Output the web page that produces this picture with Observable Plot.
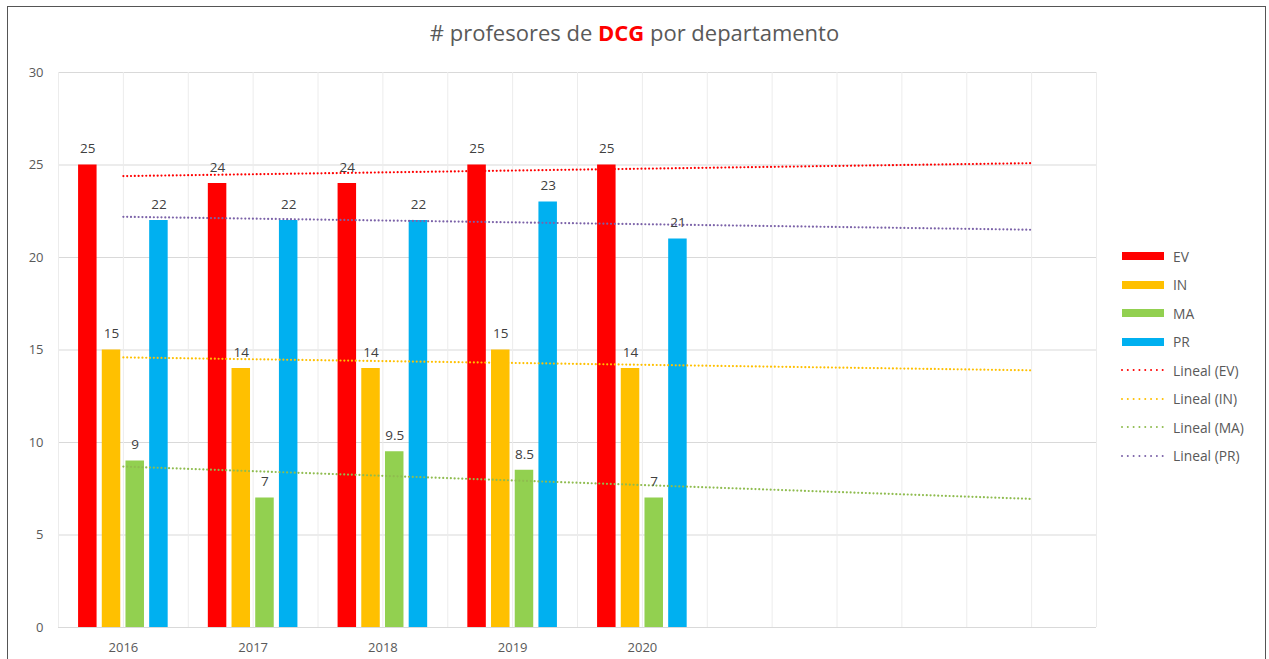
<!DOCTYPE html>
<html>
<head>
<meta charset="utf-8">
<script src="https://cdn.jsdelivr.net/npm/d3@7"></script>
<script src="https://cdn.jsdelivr.net/npm/@observablehq/plot@0.6"></script>
<style>
  html, body { margin: 0; padding: 0; background: #fff; }
  #wrap { position: relative; width: 1269px; height: 659px; overflow: hidden; font-family: "Open Sans", Lato, sans-serif; }
  #border { position: absolute; left: 7px; top: 6px; width: 1259px; height: 700px; border: 1.5px solid #555; box-sizing: border-box; }
  #title { position: absolute; left: 0; width: 1269px; top: 17px; text-align: center; font-size: 22px; color: #595959; }
  #title b { color: #ff0000; font-weight: 700; }
  #chart { position: absolute; left: 0; top: 50px; }
  #legend { position: absolute; left: 1120px; top: 242px; font-size: 13.8px; color: #595959; }
  .item { display: flex; align-items: center; height: 28.5px; }
  .item svg { margin-right: 9px; }
</style>
</head>
<body>
<div id="wrap">
  <div id="border"></div>
  <div id="title"># profesores de <b>DCG</b> por departamento</div>
  <div id="chart"></div>
  <div id="legend"></div>
</div>
<script>
// ---- data ----
const years = ["2016", "2017", "2018", "2019", "2020"];
const forecastSlots = ["2021", "2022", "2023"]; // empty categories (no labels)
const series = ["EV", "IN", "MA", "PR"];
const valuesEV = [25, 24, 24, 25, 25];
const valuesIN = [15, 14, 14, 15, 14];
const valuesMA = [9, 7, 9.5, 8.5, 7];
const valuesPR = [22, 22, 22, 23, 21];
const trendX = ["2016", "2023"];
const trendEV = [24.4, 25.1];
const trendIN = [14.6, 13.9];
const trendMA = [8.7, 6.95];
const trendPR = [22.2, 21.5];
const yTicks = [0, 5, 10, 15, 20, 25, 30];

// ---- styles ----
const barColors = {EV: "#ff0000", IN: "#ffc000", MA: "#92d050", PR: "#00b0f0"};
const trendColors = {EV: "#ff0000", IN: "#ffc000", MA: "#8fbc4f", PR: "#7b62a8"};
const W = 1269, mL = 58, mR = 173, mT = 22, mB = 32, H = 609;
const slots = years.concat(forecastSlots);
const bandW = (W - mL - mR) / slots.length;
const barW = 18.5, step = 23.7;

const valueMap = {EV: valuesEV, IN: valuesIN, MA: valuesMA, PR: valuesPR};
const trendMap = {EV: trendEV, IN: trendIN, MA: trendMA, PR: trendPR};

const marks = [];
// grid
marks.push(Plot.ruleY(yTicks, {stroke: "#d9d9d9", strokeWidth: 1}));
marks.push(Plot.ruleX(slots, {x: d => d, stroke: "#ececec", strokeWidth: 1}));
marks.push(Plot.ruleX(slots, {x: d => d, dx: -bandW / 2, stroke: "#ececec", strokeWidth: 1}));
marks.push(Plot.ruleX([slots[slots.length - 1]], {x: d => d, dx: bandW / 2, stroke: "#ececec", strokeWidth: 1}));
marks.push(Plot.ruleY([0], {stroke: "#d9d9d9", strokeWidth: 1.2}));

series.forEach((s, i) => {
  const off = (i - 1.5) * step;
  const data = years.map((y, j) => ({year: y, value: valueMap[s][j]}));
  marks.push(Plot.barY(data, {
    x: "year", y: "value", fill: barColors[s],
    insetLeft: bandW / 2 + off - barW / 2,
    insetRight: bandW / 2 - off - barW / 2
  }));
});
series.forEach((s, i) => {
  const data = trendX.map((x, j) => ({x, y: trendMap[s][j]}));
  marks.push(Plot.lineY(data, {
    x: "x", y: "y", stroke: trendColors[s], strokeWidth: 2.2,
    strokeDasharray: "0.01,3.8", strokeLinecap: "round"
  }));
});
series.forEach((s, i) => {
  const off = (i - 1.5) * step;
  const data = years.map((y, j) => ({year: y, value: valueMap[s][j]}));
  marks.push(Plot.text(data, {
    x: "year", y: "value", text: d => String(d.value), dx: off, dy: -16,
    fill: "#404040", fontSize: 13.5
  }));
});

const chart = Plot.plot({
  width: W, height: H,
  marginLeft: mL, marginRight: mR, marginTop: mT, marginBottom: mB,
  style: {fontFamily: "'Open Sans', Lato, sans-serif", fontSize: "13px", color: "#595959", background: "transparent"},
  x: {type: "band", domain: slots, round: false, paddingInner: 0, paddingOuter: 0, label: null,
      tickSize: 0, tickPadding: 15, tickFormat: d => years.includes(d) ? d : ""},
  y: {domain: [0, 30], ticks: yTicks, label: null, tickSize: 0, tickPadding: 15},
  marks
});
document.getElementById("chart").appendChild(chart);

// legend
const legend = document.getElementById("legend");
series.forEach(s => {
  const div = document.createElement("div");
  div.className = "item";
  div.innerHTML = `<svg width="44" height="10"><rect x="2" y="1" width="42" height="8" fill="${barColors[s]}"/></svg><span>${s}</span>`;
  legend.appendChild(div);
});
series.forEach(s => {
  const div = document.createElement("div");
  div.className = "item";
  div.innerHTML = `<svg width="44" height="10"><line x1="2" x2="43" y1="5" y2="5" stroke="${trendColors[s]}" stroke-width="2" stroke-linecap="round" stroke-dasharray="0.01,5.8"/></svg><span>Lineal (${s})</span>`;
  legend.appendChild(div);
});
</script>
</body>
</html>
